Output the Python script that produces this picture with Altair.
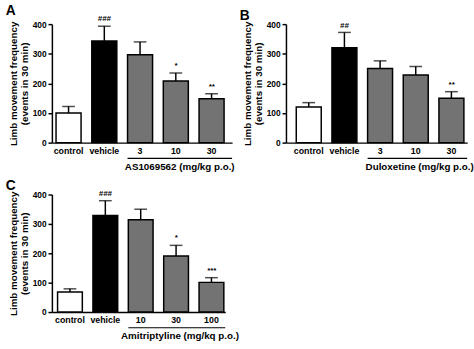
import altair as alt
import pandas as pd

FONT = "Liberation Sans"

# Panel A
a_cats = ["control", "vehicle", "3", "10", "30"]
a_means = [100, 343, 297, 208, 148]
a_upper = [122, 393, 340, 235, 165]
a_sig = ["", "###", "", "*", "**"]

# Panel B
b_cats = ["control", "vehicle", "3", "10", "30"]
b_means = [120, 320, 250, 228, 150]
b_upper = [135, 372, 276, 257, 172]
b_sig = ["", "##", "", "", "**"]

# Panel C
c_cats = ["control", "vehicle", "10", "30", "100"]
c_means = [68, 329, 314, 191, 101]
c_upper = [79, 379, 350, 227, 117]
c_sig = ["", "###", "", "*", "***"]

fills = ["#ffffff", "#000000", "#737373", "#737373", "#737373"]
y_ticks = [0, 100, 200, 300, 400]


def panel(cats, means, upper, sig, letter, drug, width, height, po, align):
    df = pd.DataFrame({"cat": cats, "mean": means, "upper": upper,
                       "sig": sig, "fill": fills, "drug": drug})
    xaxis = alt.Axis(title=None, labelAngle=0, ticks=False, labelPadding=4,
                     labelFontSize=9, labelFontWeight="bold", labelFont=FONT,
                     labelColor="black", domainColor="black", domainWidth=1.5,
                     labelOverlap=False)
    xscale = alt.Scale(paddingInner=0.3, paddingOuter=po, align=align)
    yaxis = alt.Axis(values=y_ticks, tickCount=5, grid=False, tickSize=4, tickWidth=1.5,
                     tickColor="black", domainColor="black", domainWidth=1.5,
                     labelFontSize=8.5, labelFontWeight="bold", labelFont=FONT,
                     labelColor="black", labelPadding=2, labelOverlap=False,
                     title=["Limb movement frequency", "(events in 30 min)"],
                     titleFont=FONT, titleFontSize=10, titleFontWeight="bold",
                     titleColor="black", titleLineHeight=11, titlePadding=3)
    yscale = alt.Scale(domain=[0, 400], nice=False)

    def X(**kw):
        return alt.X("cat:N", sort=cats, scale=xscale, axis=xaxis, **kw)

    def Y(field):
        return alt.Y(field, scale=yscale, axis=yaxis)

    base = alt.Chart(df)
    bars = base.mark_bar(stroke="black", strokeWidth=1.5).encode(
        x=X(), y=Y("mean:Q"), fill=alt.Fill("fill:N", scale=None))
    stems = base.mark_rule(strokeWidth=1.5, color="black").encode(
        x=X(), y=Y("mean:Q"), y2="upper:Q")
    caps = base.mark_tick(size=13, thickness=1.5, color="black").encode(
        x=X(), y=Y("upper:Q"))
    stars = base.mark_text(font=FONT, fontSize=8, fontWeight="bold", fontStyle="italic",
                           baseline="bottom", dy=-3, color="black").encode(
        x=X(), y=Y("upper:Q"), text="sig:N")
    line = base.transform_filter(alt.datum.cat == cats[2]).mark_rule(
        strokeWidth=1.2, color="black").encode(
        x=X(bandPosition=0), x2=alt.value(width), y=alt.value(height + 16))
    label = base.transform_filter(alt.datum.cat == cats[3]).mark_text(
        font=FONT, fontSize=10, fontWeight="bold", baseline="middle", dx=4,
        color="black").encode(
        x=X(), y=alt.value(height + 25), text="drug:N")
    return alt.layer(bars, stems, caps, stars, line, label).properties(
        width=width, height=height,
        title=alt.TitleParams(letter, anchor="start", frame="bounds", font=FONT,
                              fontSize=14, fontWeight="bold", color="black",
                              offset=-3, dx=-3))


A = panel(a_cats, a_means, a_upper, a_sig, "A", "AS1069562 (mg/kg p.o.)", 184, 121, 0.17, 0.34)
B = panel(b_cats, b_means, b_upper, b_sig, "B", "Duloxetine (mg/kg p.o.)", 185, 121, 0.19, 0.76)
C = panel(c_cats, c_means, c_upper, c_sig, "C", "Amitriptyline (mg/kq p.o.)", 177, 120, 0.1, 0.8)

chart = alt.concat(A, B, C, columns=2, spacing={"row": 53, "column": 55},
                   bounds="flush").properties(
    padding={"left": 5, "top": 1, "right": 0, "bottom": 0},
    background="white",
).configure_view(stroke=None)

chart.save("out.html", embed_options={"renderer": "svg", "actions": False})
